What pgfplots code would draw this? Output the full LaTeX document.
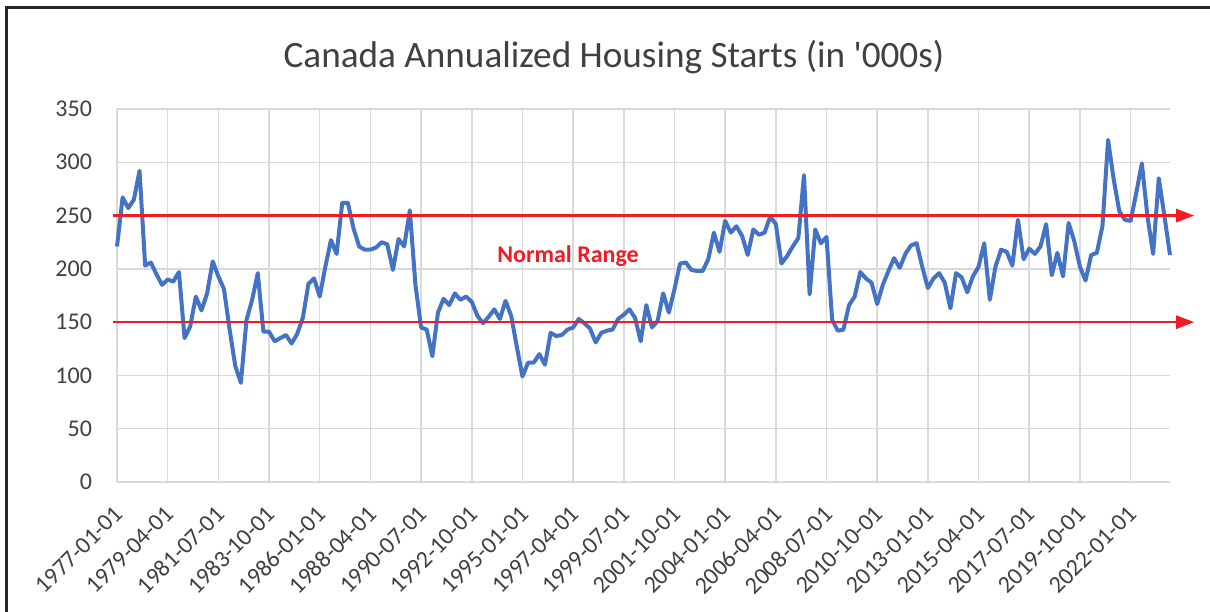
\documentclass[border=0pt]{standalone}
\usepackage{fontspec}
\setmainfont{Carlito}
\usepackage{pgfplots}
\usepackage{pgfplotstable}
\pgfplotsset{compat=1.18}
\usetikzlibrary{arrows.meta}
\definecolor{starts}{HTML}{4472C4}
\definecolor{band}{HTML}{EE1C25}
\definecolor{gridgray}{HTML}{D9D9D9}
\definecolor{lbl}{HTML}{404040}

% quarterly starts, index 0 = 1977-01-01
\pgfplotstableread{
i v
0 221
1 267
2 257
3 265
4 292
5 203
6 206
7 195
8 185
9 190
10 188
11 197
12 135
13 146
14 174
15 161
16 177
17 207
18 193
19 181
20 143
21 109
22 93
23 152
24 171
25 196
26 141
27 141
28 132
29 135
30 138
31 130
32 139
33 154
34 186
35 191
36 174
37 202
38 227
39 214
40 262
41 262
42 238
43 221
44 218
45 218
46 220
47 225
48 223
49 199
50 228
51 221
52 255
53 185
54 145
55 143
56 118
57 159
58 172
59 166
60 177
61 171
62 174
63 169
64 156
65 149
66 155
67 162
68 153
69 170
70 156
71 127
72 99
73 112
74 112
75 120
76 110
77 140
78 137
79 138
80 143
81 145
82 153
83 149
84 144
85 131
86 140
87 142
88 143
89 153
90 157
91 162
92 154
93 132
94 166
95 145
96 151
97 177
98 159
99 181
100 205
101 206
102 199
103 198
104 198
105 209
106 234
107 216
108 245
109 234
110 240
111 231
112 213
113 237
114 232
115 234
116 249
117 242
118 205
119 212
120 221
121 229
122 288
123 176
124 237
125 224
126 230
127 152
128 142
129 143
130 166
131 174
132 197
133 191
134 187
135 167
136 185
137 198
138 210
139 201
140 214
141 222
142 224
143 202
144 182
145 191
146 196
147 187
148 163
149 196
150 192
151 178
152 193
153 202
154 224
155 171
156 202
157 218
158 216
159 203
160 246
161 209
162 219
163 214
164 221
165 242
166 194
167 215
168 193
169 243
170 226
171 202
172 189
173 213
174 215
175 240
176 321
177 284
178 254
179 246
180 245
181 271
182 299
183 249
184 214
185 285
186 250
187 213
}\starts

\begin{document}
\begin{tikzpicture}
\useasboundingbox (0,0) rectangle (605pt,305.5pt);
\draw[line width=1.5pt, black!85] (3pt,-20pt) -- (3pt,301.75pt) -- (640pt,301.75pt);
\node[anchor=base, text=lbl, font=\fontsize{18.6}{22}\selectfont] at (307pt,271.5pt)
  {Canada Annualized Housing Starts (in \textquotesingle000s)};
\begin{axis}[
  at={(58.5pt,64.5pt)}, anchor=south west,
  scale only axis, width=526.5pt, height=186.5pt,
  xmin=0, xmax=187, ymin=0, ymax=350,
  xtick={0,9,...,180},
  xticklabels={1977-01-01,1979-04-01,1981-07-01,1983-10-01,1986-01-01,1988-04-01,
    1990-07-01,1992-10-01,1995-01-01,1997-04-01,1999-07-01,2001-10-01,2004-01-01,
    2006-04-01,2008-07-01,2010-10-01,2013-01-01,2015-04-01,2017-07-01,2019-10-01,2022-01-01},
  ytick={0,50,...,350},
  grid=major,
  major grid style={draw=gridgray, line width=0.75pt},
  axis line style={draw=none},
  major tick length=0pt,
  clip=false,
  tick label style={font=\fontsize{12}{14}\selectfont, text=lbl},
  /pgf/number format/assume math mode=true,
  yticklabel style={xshift=-9pt},
  xticklabel style={xshift=1pt, yshift=-14pt, rotate=45, anchor=east, inner sep=0pt},
]
\addplot[starts, line width=2pt, line join=round, mark=none] table[x=i, y=v] {\starts};
\addplot[band, line width=1.2pt, -{Triangle[length=9pt, width=6.5pt]}] coordinates {(-0.7,250) (191.3,250)};
\addplot[band, line width=1.2pt, -{Triangle[length=9pt, width=6.5pt]}] coordinates {(-0.7,150) (191.3,150)};
\node[text=band, font=\bfseries\fontsize{12}{14}\selectfont] at (axis cs:80.1,212) {Normal Range};
\end{axis}
\end{tikzpicture}
\end{document}
